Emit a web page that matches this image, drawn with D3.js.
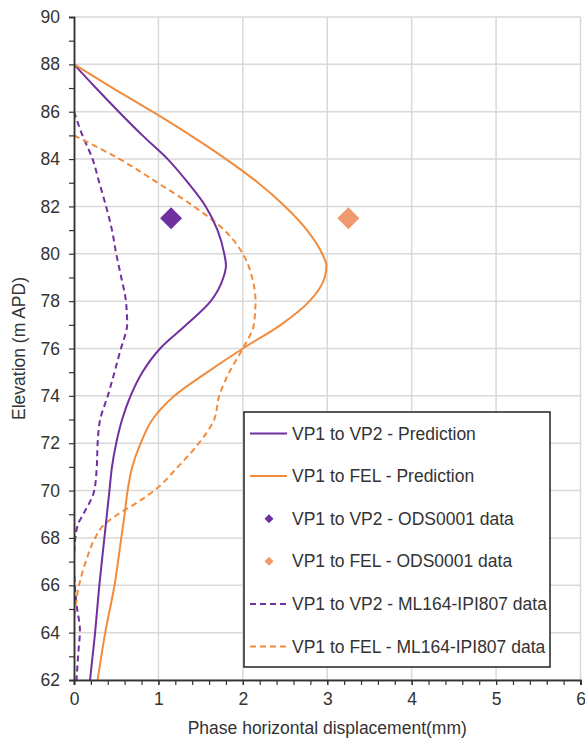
<!DOCTYPE html>
<html>
<head>
<meta charset="utf-8">
<script src="https://cdnjs.cloudflare.com/ajax/libs/d3/7.8.5/d3.min.js"></script>
<style>
  body { margin: 0; background: #fff; }
  text { font-family: "Liberation Sans", Arial, sans-serif; fill: #333; }
</style>
</head>
<body>
<script>
// elevations (m APD) and horizontal displacement (mm) per series
var predElev = [88, 87, 86, 85, 84, 83, 82, 81, 80, 79.5, 79, 78, 77, 76, 75, 74, 73, 72, 71, 70, 69, 68, 66, 64, 62];
var vp2Pred  = [0, 0.26, 0.53, 0.81, 1.11, 1.35, 1.56, 1.70, 1.78, 1.80, 1.77, 1.62, 1.33, 1.02, 0.81, 0.67, 0.57, 0.50, 0.45, 0.42, 0.39, 0.36, 0.30, 0.25, 0.19];
var felPred  = [0, 0.46, 0.93, 1.38, 1.80, 2.18, 2.50, 2.76, 2.94, 2.99, 2.97, 2.79, 2.45, 2.0, 1.58, 1.19, 0.93, 0.79, 0.69, 0.635, 0.60, 0.56, 0.48, 0.37, 0.28];

var vp2MlElev = [86, 85, 84, 83, 82, 81, 80, 79, 78, 77, 76.5, 76, 75, 74, 73, 72, 71, 70, 69, 68.6, 67.8, 67, 66, 65.2, 64.1, 63.1, 62];
var vp2Ml     = [0, 0.10, 0.22, 0.30, 0.38, 0.45, 0.50, 0.56, 0.615, 0.63, 0.60, 0.556, 0.48, 0.40, 0.31, 0.28, 0.27, 0.24, 0.11, 0.05, 0.01, 0.0, 0.01, 0.03, 0.07, 0.05, 0.03];

var felMlElev = [85, 84, 83, 82, 81, 80, 79, 78, 77, 76, 75, 74, 73, 72, 71, 70, 69.5, 69, 68.5, 68, 67, 66, 65.2, 64.6];
var felMl     = [0, 0.54, 0.99, 1.42, 1.78, 2.0, 2.11, 2.15, 2.13, 2.0, 1.84, 1.72, 1.66, 1.48, 1.23, 0.95, 0.75, 0.52, 0.34, 0.25, 0.14, 0.06, 0.02, 0];

var odsElev = [81.5];
var vp2Ods = [1.15];
var felOds = [3.25];

var xTicks = [0, 1, 2, 3, 4, 5, 6];
var yTicks = [62, 64, 66, 68, 70, 72, 74, 76, 78, 80, 82, 84, 86, 88, 90];

var purple = '#7030A0';
var orange = '#F28C3C';
var orangeMarker = '#F0986E';

var legendItems = [
    { label: 'VP1 to VP2 - Prediction', color: purple, kind: 'line', dash: null },
    { label: 'VP1 to FEL - Prediction', color: orange, kind: 'line', dash: null },
    { label: 'VP1 to VP2 - ODS0001 data', color: purple, kind: 'diamond' },
    { label: 'VP1 to FEL - ODS0001 data', color: orangeMarker, kind: 'diamond' },
    { label: 'VP1 to VP2 - ML164-IPI807 data', color: purple, kind: 'line', dash: '6,4' },
    { label: 'VP1 to FEL - ML164-IPI807 data', color: orange, kind: 'line', dash: '6,4' }
];

var W = 585, H = 738;
var mLeft = 74, mRight = 580.5, mTop = 17, mBottom = 680;

var svg = d3.select('body').append('svg').attr('width', W).attr('height', H);

var x = d3.scaleLinear().domain([0, 6]).range([mLeft, mRight]);
var y = d3.scaleLinear().domain([62, 90]).range([mBottom, mTop]);

// grid
svg.append('g').selectAll('line').data(yTicks).enter().append('line')
    .attr('x1', mLeft).attr('x2', mRight)
    .attr('y1', function (d) { return y(d); }).attr('y2', function (d) { return y(d); })
    .attr('stroke', '#d9d9d9').attr('stroke-width', 1.5);
svg.append('g').selectAll('line').data(xTicks.slice(1)).enter().append('line')
    .attr('y1', mTop).attr('y2', mBottom)
    .attr('x1', function (d) { return x(d); }).attr('x2', function (d) { return x(d); })
    .attr('stroke', '#d9d9d9').attr('stroke-width', 1.5);

svg.append('clipPath').attr('id', 'clip').append('rect')
    .attr('x', mLeft).attr('y', mTop).attr('width', mRight - mLeft).attr('height', mBottom - mTop);

var line = d3.line()
    .x(function (d) { return x(d[0]); })
    .y(function (d) { return y(d[1]); })
    .curve(d3.curveMonotoneY);

function zip(xs, ys) { return xs.map(function (v, i) { return [v, ys[i]]; }); }

var series = [
    { xs: vp2Ml, ys: vp2MlElev, color: purple, dash: '6,4' },
    { xs: felMl, ys: felMlElev, color: orange, dash: '6,4' },
    { xs: vp2Pred, ys: predElev, color: purple, dash: null },
    { xs: felPred, ys: predElev, color: orange, dash: null }
];

var plot = svg.append('g').attr('clip-path', 'url(#clip)');
series.forEach(function (s) {
    plot.append('path')
        .datum(zip(s.xs, s.ys))
        .attr('d', line)
        .attr('fill', 'none')
        .attr('stroke', s.color)
        .attr('stroke-width', 2)
        .attr('stroke-dasharray', s.dash);
});

function diamond(r) {
    return 'M0,' + (-r) + 'L' + r + ',0L0,' + r + 'L' + (-r) + ',0Z';
}

[[vp2Ods, purple], [felOds, orangeMarker]].forEach(function (p) {
    svg.append('g').selectAll('path').data(zip(p[0], odsElev)).enter().append('path')
        .attr('d', diamond(11))
        .attr('transform', function (d) { return 'translate(' + x(d[0]) + ',' + y(d[1]) + ')'; })
        .attr('fill', p[1]);
});

// axes
var axisColor = '#333';
svg.append('g').attr('transform', 'translate(' + mLeft + ',0)')
    .call(d3.axisLeft(y).tickValues(yTicks).tickSize(5).tickPadding(9));
svg.append('g').attr('transform', 'translate(' + mLeft + ',0)')
    .call(d3.axisLeft(y).tickValues(d3.range(63, 90, 2)).tickSize(5).tickFormat(''));
svg.append('g').attr('transform', 'translate(0,' + mBottom + ')')
    .call(d3.axisBottom(x).tickValues(xTicks).tickFormat(d3.format('d')).tickSize(5).tickPadding(8));
svg.append('g').attr('transform', 'translate(0,' + mBottom + ')')
    .call(d3.axisBottom(x).tickValues(d3.range(0, 6.01, 0.2)).tickSize(5).tickFormat(''));

svg.selectAll('.domain').attr('stroke', axisColor).attr('stroke-width', 1.5);
svg.selectAll('.tick line').attr('stroke', axisColor).attr('stroke-width', 1.2);
svg.selectAll('.tick text').style('font-size', '17.5px').style('font-family', '"Liberation Sans", Arial, sans-serif').attr('fill', '#333');

svg.append('text')
    .attr('x', (mLeft + mRight) / 2).attr('y', 734)
    .attr('text-anchor', 'middle').style('font-size', '17.5px')
    .text('Phase horizontal displacement(mm)');
svg.append('text')
    .attr('transform', 'translate(25,' + ((mTop + mBottom) / 2) + ') rotate(-90)')
    .attr('text-anchor', 'middle').style('font-size', '17.5px')
    .text('Elevation (m APD)');

// legend
var lg = svg.append('g');
lg.append('rect').attr('x', 244).attr('y', 412).attr('width', 306).attr('height', 255)
    .attr('fill', '#fff').attr('stroke', '#222').attr('stroke-width', 1.5);
var rowY = d3.scalePoint().domain(legendItems.map(function (d) { return d.label; })).range([433.5, 646.5]);
legendItems.forEach(function (it) {
    var cy = rowY(it.label);
    if (it.kind === 'line') {
        lg.append('line').attr('x1', 250).attr('x2', 287).attr('y1', cy).attr('y2', cy)
            .attr('stroke', it.color).attr('stroke-width', 2).attr('stroke-dasharray', it.dash);
    } else {
        lg.append('path').attr('d', diamond(4.5)).attr('transform', 'translate(269,' + cy + ')').attr('fill', it.color);
    }
    lg.append('text').attr('x', 292).attr('y', cy + 6).style('font-size', '17.5px').text(it.label);
});
</script>
</body>
</html>
